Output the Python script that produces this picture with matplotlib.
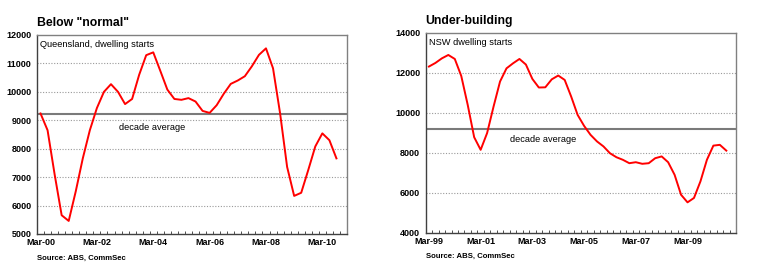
import matplotlib
matplotlib.use("Agg")
import matplotlib.pyplot as plt
import numpy as np

plt.rcParams['font.family'] = ['Liberation Sans', 'DejaVu Sans']

# ---------------- data ----------------
qld_title = 'Below "normal"'
qld_label = "Queensland, dwelling starts"
qld_categories = [f"{m}-{y:02d}" for y in range(0, 11) for m in ("Mar", "Jun", "Sep", "Dec")]  # Mar-00 .. Dec-10
qld_values = [9240, 8650, 7100, 5660, 5460, 6500, 7660, 8650, 9430, 10000,
              10270, 10000, 9570, 9750, 10600, 11290, 11390, 10740, 10080, 9750,
              9720, 9780, 9660, 9330, 9260, 9530, 9930, 10280, 10400, 10550,
              10900, 11300, 11530, 10830, 9250, 7360, 6340, 6450, 7250, 8080,
              8540, 8300, 7660]
qld_average = 9230
qld_yticks = [5000, 6000, 7000, 8000, 9000, 10000, 11000, 12000]

nsw_title = "Under-building"
nsw_label = "NSW dwelling starts"
nsw_categories = [f"{m}-{y % 100:02d}" for y in range(1999, 2011) for m in ("Mar", "Jun", "Sep", "Dec")]  # Mar-99 .. Dec-10
nsw_values = [12320, 12500, 12730, 12900, 12700, 11850, 10400, 8780, 8150, 8990,
              10320, 11570, 12230, 12480, 12700, 12420, 11700, 11270, 11280, 11680,
              11870, 11650, 10820, 9900, 9350, 8900, 8570, 8320, 7980, 7780,
              7650, 7480, 7530, 7450, 7480, 7730, 7820, 7530, 6900, 5900,
              5520, 5740, 6570, 7650, 8360, 8400, 8110]
nsw_average = 9170
nsw_yticks = [4000, 6000, 8000, 10000, 12000, 14000]

source_text = "Source: ABS, CommSec"
avg_text = "decade average"

# ---------------- figure ----------------
fig = plt.figure(figsize=(7.7, 2.76), dpi=100)

def draw(rect, title, label, cats, vals, avg, yticks, avg_text_xy, title_y, src_y):
    ax = fig.add_axes(rect)
    n = len(cats)
    x = np.arange(len(vals))
    ax.set_xlim(-0.5, n - 0.5)
    ax.set_ylim(yticks[0], yticks[-1])
    # gridlines
    for yv in yticks[1:-1]:
        ax.axhline(yv, color="#9a9a9a", lw=0.8, ls=(0, (1, 1.5)), zorder=1)
    ax.axhline(avg, color="#7a7a7a", lw=1.5, zorder=2)
    ax.plot(x, vals, color="#ff0000", lw=1.4, zorder=3)
    # ticks
    ax.set_yticks(yticks)
    ax.set_yticklabels([str(v) for v in yticks], fontsize=6.5, fontweight="bold")
    ax.tick_params(axis="y", length=0, pad=4)
    ax.set_xticks(np.arange(n + 1) - 0.5)
    ax.set_xticklabels([])
    ax.tick_params(axis="x", which="major", direction="in", length=2.5, width=0.6, color="#333333")
    lab_idx = list(range(0, n, 8))
    ax.set_xticks(lab_idx, minor=True)
    ax.set_xticklabels([cats[i] for i in lab_idx], minor=True, fontsize=6.5, fontweight="bold")
    ax.tick_params(axis="x", which="minor", length=0, pad=3)
    for s in ("top", "right"):
        ax.spines[s].set_color("#808080")
        ax.spines[s].set_linewidth(1.0)
    for s in ("left", "bottom"):
        ax.spines[s].set_color("#404040")
        ax.spines[s].set_linewidth(1.0)
    ax.text(0.01, 0.975, label, transform=ax.transAxes, fontsize=6.7, va="top", ha="left")
    ax.text(avg_text_xy[0], avg_text_xy[1], avg_text, transform=ax.transAxes, fontsize=6.7,
            va="center", ha="left")
    fig.text(rect[0], title_y, title, fontsize=8.8, fontweight="bold", ha="left", va="center")
    fig.text(rect[0], src_y, source_text, fontsize=5.6, fontweight="bold", ha="left", va="center")
    return ax

draw([37 / 770, 1 - 234 / 276, 310 / 770, 199 / 276], qld_title, qld_label, qld_categories,
     qld_values, qld_average, qld_yticks, (82 / 310, 1 - (128 - 35) / 199),
     1 - 23 / 276, 1 - 258 / 276)
draw([425.7 / 770, 1 - 232.7 / 276, 310.3 / 770, 199.7 / 276], nsw_title, nsw_label, nsw_categories,
     nsw_values, nsw_average, nsw_yticks, (84 / 310, 1 - (140 - 33) / 199.7),
     1 - 21 / 276, 1 - 256 / 276)

fig.savefig("out.png", dpi=100)
